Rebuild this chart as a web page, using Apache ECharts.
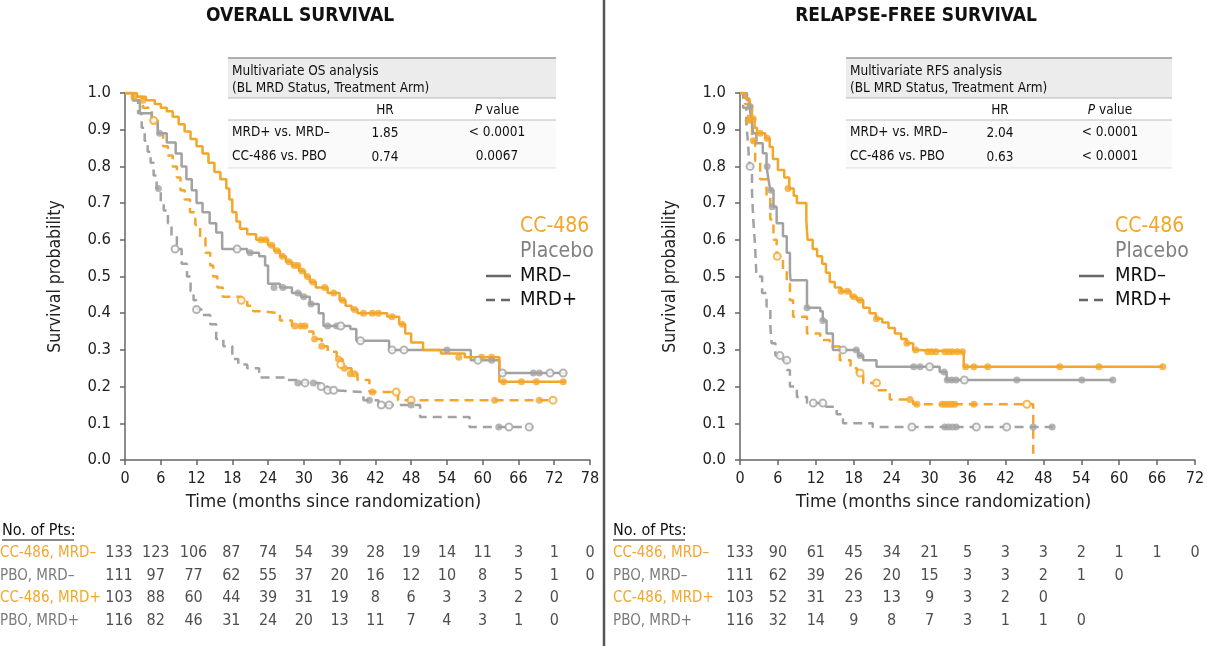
<!DOCTYPE html>
<html><head><meta charset="utf-8">
<script src="https://cdn.jsdelivr.net/npm/echarts@6/dist/echarts.min.js"></script>
<style>html,body{margin:0;padding:0;background:#fff}#c{width:1207px;height:646px}</style>
</head><body><div id="c"></div><script>
const FF = "'DejaVu Sans Condensed','DejaVu Sans',sans-serif";
const ORANGE = '#F4A62A', GRAY = '#A2A2A2', DARK = '#222', AXIS = '#666';

// ---------- Overall survival (months, survival) ----------
const osCCNeg = [[0,1],[2,0.99],[3.5,0.98],[5,0.97],[6,0.96],[7,0.95],[8,0.935],[9,0.915],[10,0.895],[11,0.875],[12,0.855],[13,0.835],[14,0.81],[15,0.785],[16,0.765],[17,0.74],[17.5,0.71],[18,0.675],[18.7,0.65],[19.3,0.63],[20.5,0.615],[22,0.60],[24,0.585],[25,0.57],[26,0.555],[27,0.54],[28,0.53],[29.2,0.515],[30.2,0.50],[31,0.485],[32,0.47],[34,0.455],[36,0.435],[37,0.42],[38,0.41],[39,0.40],[44,0.39],[46,0.37],[47,0.345],[48,0.32],[50,0.30],[53,0.29],[57,0.28],[62.8,0.213],[74,0.213]];
const osPboNeg = [[0,1],[1.3,0.98],[2.5,0.945],[4.5,0.92],[5.5,0.89],[7,0.865],[8.5,0.835],[9.5,0.80],[10.3,0.765],[11.2,0.735],[12,0.70],[13,0.675],[14.2,0.645],[15.3,0.62],[16.3,0.575],[20.5,0.565],[22.5,0.555],[23.5,0.53],[24,0.48],[26,0.47],[28,0.455],[29.5,0.445],[31,0.425],[32.5,0.40],[33.3,0.365],[37.8,0.357],[38.8,0.325],[44.3,0.30],[58,0.272],[62.8,0.237],[74,0.237]];
const osCCPos = [[0,1],[1.5,0.99],[3,0.96],[4.5,0.925],[5.5,0.89],[6.4,0.855],[7.2,0.83],[8,0.80],[8.7,0.77],[9.3,0.735],[10,0.71],[10.9,0.675],[11.8,0.64],[12.6,0.605],[13.5,0.565],[14.3,0.53],[14.8,0.50],[15.5,0.47],[16.4,0.445],[19.5,0.435],[20.5,0.42],[21.5,0.405],[23.2,0.40],[26,0.38],[28,0.365],[30.5,0.35],[31.6,0.33],[33,0.31],[34,0.295],[35.5,0.275],[36.5,0.25],[38,0.235],[39,0.218],[41,0.185],[45.8,0.163],[72,0.163]];
const osPboPos = [[0,1],[1.3,0.98],[2.2,0.945],[2.8,0.905],[3.3,0.87],[3.8,0.84],[4.3,0.81],[4.8,0.775],[5.3,0.74],[6,0.70],[6.5,0.68],[7.2,0.645],[7.8,0.61],[8.7,0.575],[9.5,0.535],[10.4,0.50],[11,0.46],[11.5,0.435],[12,0.41],[13,0.395],[14.3,0.37],[15.3,0.33],[16.5,0.31],[18,0.275],[19,0.26],[20.5,0.25],[22.5,0.225],[27,0.218],[29,0.21],[32.7,0.20],[34,0.19],[35,0.185],[40,0.163],[42.5,0.15],[49.5,0.117],[57.8,0.09],[68.5,0.09]];
// censored marks (filled / open)
const osCCNegCens = [[1.5,0.99],[3,0.98],[22.8,0.60],[23.6,0.60],[24.6,0.585],[25.5,0.57],[26.4,0.555],[27.5,0.54],[28.4,0.53],[29,0.53],[29.7,0.515],[30.6,0.50],[31.5,0.485],[33.5,0.47],[35,0.455],[36.5,0.435],[38.5,0.41],[40,0.40],[41.5,0.40],[42.5,0.40],[44.8,0.39],[46.5,0.37],[56,0.28],[59.8,0.28],[61.5,0.28],[63.5,0.213],[66.5,0.213],[69,0.213],[73.5,0.213]];
const osPboNegCens = [[5.8,0.89],[21,0.565],[25,0.47],[26.5,0.47],[29,0.455],[30,0.445],[31.2,0.425],[34,0.365],[35.5,0.365],[54,0.30],[61.5,0.272],[68.5,0.237],[69.5,0.237]];
const osPboNegOpen = [[18.8,0.575],[36.2,0.365],[39.5,0.325],[44.8,0.30],[46.8,0.30],[59.2,0.272],[63.3,0.237],[71.3,0.237],[73.5,0.237]];
const osCCPosCens = [[28.5,0.365],[29.5,0.365],[30.2,0.365],[31.8,0.33],[33,0.31],[35.8,0.275],[36.8,0.25],[37.8,0.235],[38.5,0.235],[41.5,0.185],[62,0.163],[69.5,0.163]];
const osCCPosOpen = [[4.8,0.925],[19.5,0.435],[36.2,0.26],[45.5,0.185],[48,0.163],[71.8,0.163]];
const osPboPosCens = [[5.6,0.74],[29,0.21],[31.6,0.21],[41,0.163],[48,0.15],[62.7,0.09]];
const osPboPosOpen = [[8.4,0.575],[12,0.41],[30.2,0.21],[32.9,0.20],[34,0.19],[35,0.19],[43,0.15],[44.3,0.15],[64.4,0.09],[67.8,0.09]];

// ---------- Relapse-free survival ----------
const rfsCCNeg = [[0,1],[0.8,0.985],[1.5,0.965],[1.9,0.93],[2.3,0.905],[2.7,0.89],[4,0.877],[4.7,0.853],[5.2,0.82],[6,0.79],[7,0.77],[7.8,0.74],[8.5,0.72],[9,0.70],[10.5,0.65],[10.7,0.60],[11.5,0.575],[12.2,0.555],[13,0.535],[13.6,0.51],[14.2,0.485],[15,0.47],[16,0.46],[17.5,0.445],[18.5,0.435],[19.5,0.415],[20.5,0.40],[21.5,0.385],[22.5,0.375],[23.5,0.36],[24.5,0.345],[25.5,0.33],[26.4,0.318],[27.4,0.30],[28,0.295],[35.4,0.254],[66.9,0.254]];
const rfsPboNeg = [[0,1],[1.1,0.98],[1.5,0.963],[1.8,0.926],[2.1,0.89],[2.6,0.863],[3.6,0.836],[4.2,0.80],[4.5,0.765],[4.8,0.735],[5.3,0.69],[5.8,0.645],[6.8,0.61],[7.4,0.565],[7.9,0.51],[8,0.49],[10.6,0.415],[12.7,0.405],[13.1,0.38],[13.7,0.345],[14.7,0.30],[18.7,0.285],[19.5,0.272],[21.6,0.254],[31.6,0.24],[32.7,0.218],[59,0.218]];
const rfsCCPos = [[0,1],[0.8,0.97],[1.3,0.925],[1.9,0.87],[2.4,0.815],[3.2,0.765],[4.2,0.72],[4.8,0.655],[5.3,0.60],[5.8,0.555],[6.8,0.515],[7.4,0.48],[7.9,0.435],[8.4,0.39],[10.6,0.345],[12.7,0.327],[14.2,0.309],[15.8,0.272],[17.5,0.25],[18.5,0.237],[19.5,0.21],[21.6,0.19],[23.7,0.165],[27.4,0.152],[46.4,0]];
const rfsPboPos = [[0,1],[0.5,0.96],[1,0.92],[1.3,0.855],[1.5,0.80],[1.9,0.73],[2.1,0.655],[2.4,0.58],[2.6,0.5],[3.5,0.455],[4.2,0.418],[4.8,0.363],[5,0.318],[5.6,0.285],[6.8,0.272],[7.4,0.245],[7.9,0.2],[9,0.172],[10.6,0.155],[13.6,0.145],[15.3,0.125],[16.3,0.10],[21,0.09],[49.5,0.09]];
const rfsCCNegCens = [[2.1,0.93],[3.2,0.89],[4.3,0.877],[7.6,0.74],[16,0.46],[17,0.46],[18,0.445],[19,0.435],[21.6,0.385],[26.4,0.318],[27.8,0.30],[29.7,0.295],[30.3,0.295],[31,0.295],[32.4,0.295],[33,0.295],[33.6,0.295],[34.4,0.295],[35.2,0.295],[35.7,0.254],[37,0.254],[39.2,0.254],[50.6,0.254],[56.8,0.254],[66.9,0.254]];
const rfsPboNegCens = [[1.6,0.963],[4.3,0.80],[4.9,0.735],[5.1,0.69],[10.6,0.415],[13.1,0.38],[18.4,0.30],[19,0.285],[27.5,0.254],[28.5,0.254],[32.3,0.24],[32.8,0.218],[33.5,0.218],[34.2,0.218],[43.8,0.218],[54.1,0.218],[59,0.218]];
const rfsPboNegOpen = [[16.3,0.30],[30,0.254],[35.5,0.218]];
const rfsCCPosCens = [[1.3,0.925],[2.1,0.87],[26.9,0.165],[28,0.152],[32,0.152],[32.5,0.152],[33,0.152],[33.5,0.152],[34,0.152],[37,0.152]];
const rfsCCPosOpen = [[5.9,0.555],[19,0.237],[21.6,0.21],[45.4,0.152]];
const rfsPboPosCens = [[32.4,0.09],[33,0.09],[33.6,0.09],[34.2,0.09],[46.4,0.09],[49.4,0.09]];
const rfsPboPosOpen = [[1.6,0.80],[6.3,0.285],[7.4,0.272],[11.6,0.155],[13.1,0.155],[27.2,0.09],[37.4,0.09],[42.2,0.09]];

// ---------- number at risk ----------
const riskRowNames = ['CC-486, MRD–','PBO, MRD–','CC-486, MRD+','PBO, MRD+'];
const osTicks = [0,6,12,18,24,30,36,42,48,54,60,66,72,78];
const osRisk = [
  [133,123,106,87,74,54,39,28,19,14,11,3,1,0],
  [111,97,77,62,55,37,20,16,12,10,8,5,1,0],
  [103,88,60,44,39,31,19,8,6,3,3,2,0],
  [116,82,46,31,24,20,13,11,7,4,3,1,0]];
const rfsTicks = [0,6,12,18,24,30,36,42,48,54,60,66,72];
const rfsRisk = [
  [133,90,61,45,34,21,5,3,3,2,1,1,0],
  [111,62,39,26,20,15,3,3,2,1,0],
  [103,52,31,23,13,9,3,2,0],
  [116,32,14,9,8,7,3,1,1,0]];

// ---------- HR tables ----------
const osTableTitle = 'Multivariate OS analysis';
const rfsTableTitle = 'Multivariate RFS analysis';
const tableSub = '(BL MRD Status, Treatment Arm)';
const osTableRows = [['MRD+ vs. MRD–','1.85','< 0.0001'],['CC-486 vs. PBO','0.74','0.0067']];
const rfsTableRows = [['MRD+ vs. MRD–','2.04','< 0.0001'],['CC-486 vs. PBO','0.63','< 0.0001']];

function curve(data, color, dashed, xi) {
  return {type:'line', xAxisIndex:xi, yAxisIndex:xi, data, step:'end', showSymbol:false, symbol:'none',
    lineStyle:{color, width:2.5, type: dashed ? [9,6] : 'solid'}, z:3, silent:true};
}
function cens(data, color, hollow, xi) {
  return {type:'scatter', xAxisIndex:xi, yAxisIndex:xi, data, symbol: hollow ? 'emptyCircle' : 'circle', symbolSize: 7,
    itemStyle:{color, borderColor:color, borderWidth: hollow ? 1.5 : 0}, z:4, silent:true};
}
// small left shifts of the first columns, as in the source table
const osColShift = [-6,-5,-3,-1];
function riskSeries(rows, ticks, xi, shifts) {
  return rows.map((vals, r) => ({type:'scatter', xAxisIndex:xi, yAxisIndex:xi, symbolSize:1, silent:true,
    itemStyle:{color:'rgba(0,0,0,0)'},
    data: vals.map((v,i) => ({value:[ticks[i], riskRowNames[r], v], label:{offset:[(shifts && shifts[i]) || 0, 0]}})),
    label:{show:true, position:'inside', formatter:p => String(p.value[2]), fontSize:16, color:DARK, fontFamily:FF}}));
}
function mainX(gi, max) {
  return {gridIndex:gi, type:'value', min:0, max, interval:6,
    axisLine:{show:true, onZero:false, lineStyle:{color:AXIS, width:1.5}},
    axisTick:{show:true, length:5, lineStyle:{color:AXIS, width:1.5}},
    splitLine:{show:false},
    axisLabel:{fontSize:16, color:DARK, margin:11, fontFamily:FF},
    name:'Time (months since randomization)', nameLocation:'middle', nameGap:33,
    nameTextStyle:{fontSize:18.5, color:DARK, fontFamily:FF, padding:[0,48,0,0]}};
}
function mainY(gi) {
  return {gridIndex:gi, type:'value', min:0, max:1, interval:0.1,
    axisLine:{show:true, onZero:false, lineStyle:{color:AXIS, width:1.5}},
    axisTick:{show:true, length:5, lineStyle:{color:AXIS, width:1.5}},
    splitLine:{show:false},
    axisLabel:{fontSize:16.5, color:DARK, margin:14, fontFamily:FF, formatter:v => v.toFixed(1)},
    name:'Survival probability', nameLocation:'middle', nameGap:61, nameRotate:90,
    nameTextStyle:{fontSize:17.5, color:DARK, fontFamily:FF}};
}
function riskX(gi, max) { return {gridIndex:gi, type:'value', min:0, max, show:false}; }
function riskY(gi, margin) {
  return {gridIndex:gi, type:'category', inverse:true, data:riskRowNames,
    axisLine:{show:false}, axisTick:{show:false}, splitLine:{show:false},
    axisLabel:{align:'left', margin, fontSize:15, fontFamily:FF,
      formatter:(v,i) => '{' + (i % 2 === 0 ? 'o' : 'g') + '|' + v + '}',
      rich:{o:{color:ORANGE, fontSize:15, fontFamily:FF}, g:{color:'#7a7a7a', fontSize:15, fontFamily:FF}}}};
}

function txt(text, x, y, size, color, align, extra) {
  return Object.assign({type:'text', silent:true, style:{text, x, y, fontSize:size, fontFamily:FF, fill:color,
    align:align || 'left', verticalAlign:'middle'}}, extra || {});
}
function line(x1, y1, x2, y2, color, w, dash) {
  return {type:'line', silent:true, shape:{x1, y1, x2, y2}, style:{stroke:color, lineWidth:w, lineDash:dash || null}};
}
function table(x0, x1, hrX, pX, title, rows) {
  const els = [];
  els.push({type:'rect', silent:true, shape:{x:x0, y:58, width:x1-x0, height:40}, style:{fill:'#ececec'}});
  els.push({type:'rect', silent:true, shape:{x:x0, y:120, width:x1-x0, height:48}, style:{fill:'#fafafa'}});
  els.push(line(x0, 58, x1, 58, '#9a9a9a', 1.5));
  els.push(line(x0, 98, x1, 98, '#b5b5b5', 1));
  els.push(line(x0, 120, x1, 120, '#bdbdbd', 1.2));
  els.push(line(x0, 168, x1, 168, '#dddddd', 1));
  els.push(txt(title, x0 + 4, 71, 13.5, '#111'));
  els.push(txt(tableSub, x0 + 4, 88, 13.5, '#111'));
  els.push(txt('HR', hrX, 110, 13.5, '#111', 'center'));
  els.push({type:'text', silent:true, style:{text:'{i|P}{n| value}', x:pX, y:110, align:'center', verticalAlign:'middle',
    rich:{i:{fontStyle:'italic', fontSize:13.5, fontFamily:FF, fill:'#111'}, n:{fontSize:13.5, fontFamily:FF, fill:'#111'}}}});
  rows.forEach((r, i) => {
    const y = 132 + i * 24;
    els.push(txt(r[0], x0 + 4, y, 13.5, '#111'));
    els.push(txt(r[1], hrX, y + 1, 13.5, '#111', 'center'));
    els.push(txt(r[2], pX, y, 13.5, '#111', 'center'));
  });
  return els;
}
function legend(x, lx) {
  return [
    txt('CC-486', x, 227, 21, ORANGE),
    txt('Placebo', x, 252, 21, '#808080'),
    line(lx, 276, lx + 25, 276, '#666', 2.5),
    txt('MRD–', x, 276, 20, '#111'),
    line(lx, 300, lx + 25, 300, '#666', 2.5, [9,6]),
    txt('MRD+', x, 300, 20, '#111')
  ];
}

const graphics = [].concat(
  [txt('OVERALL SURVIVAL', 300, 16, 19, '#111', 'center', {}),
   txt('RELAPSE-FREE SURVIVAL', 916, 16, 19, '#111', 'center', {})],
  table(228, 556, 385, 497, osTableTitle, osTableRows),
  table(846, 1172, 1000, 1110, rfsTableTitle, rfsTableRows),
  legend(520, 486), legend(1115, 1079),
  [line(604, 0, 604, 646, '#555', 2.5),
   txt('No. of Pts:', 2, 531, 16, '#111'), line(2, 540, 74, 540, '#111', 1),
   txt('No. of Pts:', 613, 531, 16, '#111'), line(613, 540, 685, 540, '#111', 1)]
);
graphics[0].style.fontWeight = 'bold';
graphics[1].style.fontWeight = 'bold';

const chart = echarts.init(document.getElementById('c'), null, {renderer:'canvas'});
chart.setOption({
  animation:false,
  backgroundColor:'#fff',
  grid:[
    {left:125, top:93, width:465, height:367, outerBoundsMode:'none'},
    {left:740, top:93, width:455, height:367, outerBoundsMode:'none'},
    {left:125, top:542, width:465, height:90, outerBoundsMode:'none'},
    {left:740, top:542, width:455, height:90, outerBoundsMode:'none'}
  ],
  xAxis:[mainX(0, 78), mainX(1, 72), riskX(2, 78), riskX(3, 72)],
  yAxis:[mainY(0), mainY(1), riskY(2, 125), riskY(3, 127)],
  series:[
    curve(osPboPos, GRAY, true, 0), curve(osCCPos, ORANGE, true, 0),
    curve(osPboNeg, GRAY, false, 0), curve(osCCNeg, ORANGE, false, 0),
    cens(osCCNegCens, ORANGE, false, 0),
    cens(osPboNegCens, GRAY, false, 0), cens(osPboNegOpen, GRAY, true, 0),
    cens(osCCPosCens, ORANGE, false, 0), cens(osCCPosOpen, ORANGE, true, 0),
    cens(osPboPosCens, GRAY, false, 0), cens(osPboPosOpen, GRAY, true, 0),
    curve(rfsPboPos, GRAY, true, 1), curve(rfsCCPos, ORANGE, true, 1),
    curve(rfsPboNeg, GRAY, false, 1), curve(rfsCCNeg, ORANGE, false, 1),
    cens(rfsCCNegCens, ORANGE, false, 1),
    cens(rfsPboNegCens, GRAY, false, 1), cens(rfsPboNegOpen, GRAY, true, 1),
    cens(rfsCCPosCens, ORANGE, false, 1), cens(rfsCCPosOpen, ORANGE, true, 1),
    cens(rfsPboPosCens, GRAY, false, 1), cens(rfsPboPosOpen, GRAY, true, 1)
  ].concat(riskSeries(osRisk, osTicks, 2, osColShift), riskSeries(rfsRisk, rfsTicks, 3, null)),
  graphic: graphics
});
</script></body></html>
